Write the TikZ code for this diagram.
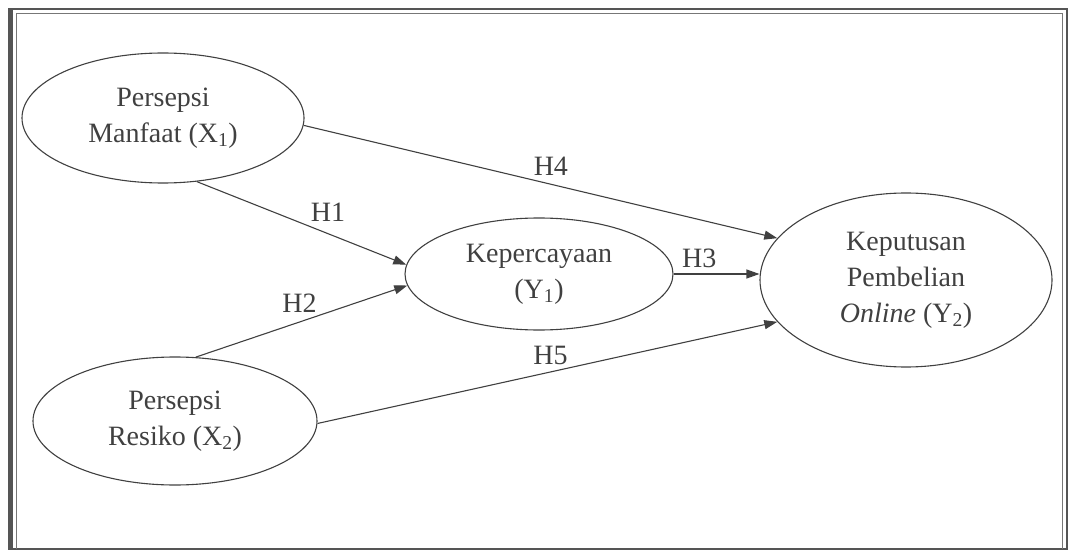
\documentclass[tikz,border=0pt]{standalone}
\usepackage{fontspec}
\setmainfont{Liberation Serif}
\usetikzlibrary{shapes.geometric,arrows.meta}
\definecolor{ink}{HTML}{404040}
\definecolor{framecol}{HTML}{555555}
\begin{document}
\begin{tikzpicture}[x=1pt,y=-1pt,
  every node/.style={text=ink},
  construct/.style={ellipse,draw=ink,line width=1.1pt,inner sep=0pt,align=center,
    font=\fontsize{28}{36}\selectfont},
  path/.style={draw=ink,line width=1.1pt,-{Triangle[length=13pt,width=9pt]}},
  hyp/.style={font=\fontsize{28}{30}\selectfont,anchor=base,inner sep=0pt}]
  \useasboundingbox (0,0) rectangle (1070,553);
  % double frame
  \draw[framecol,line width=1.4pt] (9,9) rectangle (1067,549);
  \draw[framecol,line width=3.2pt] (11,9) -- (11,549);
  \draw[framecol!80,line width=1pt] (16,549) -- (16,14) -- (1062,14) -- (1062,549);

  % constructs
  \node[construct,minimum width=282pt,minimum height=130pt] (x1) at (163,118)
    {Persepsi\\Manfaat (X\textsubscript{1})};
  \node[construct,minimum width=284pt,minimum height=128pt] (x2) at (175,421)
    {Persepsi\\Resiko (X\textsubscript{2})};
  \node[construct,minimum width=268pt,minimum height=112pt] (y1) at (539,274)
    {Kepercayaan\\(Y\textsubscript{1})};
  \node[construct,minimum width=292pt,minimum height=174pt] (y2) at (906,280)
    {Keputusan\\Pembelian\\\textit{Online} (Y\textsubscript{2})};

  % hypothesised paths
  \draw[path] (x1.-3) -- node[hyp,pos=0.522,yshift=9pt]{H4} (y2.162);
  \draw[path] (x1.-62) -- node[hyp,pos=0.626,yshift=12pt]{H1} (y1.176);
  \draw[path] (x2.72) -- node[hyp,pos=0.49,yshift=10pt]{H2} (y1.185);
  \draw[path] (y1.east) -- node[hyp,pos=0.3,yshift=6pt]{H3} (y1.east -| y2.west);
  \draw[path] (x2.-1) -- node[hyp,pos=0.507,yshift=7pt]{H5} (y2.198);
\end{tikzpicture}
\end{document}
